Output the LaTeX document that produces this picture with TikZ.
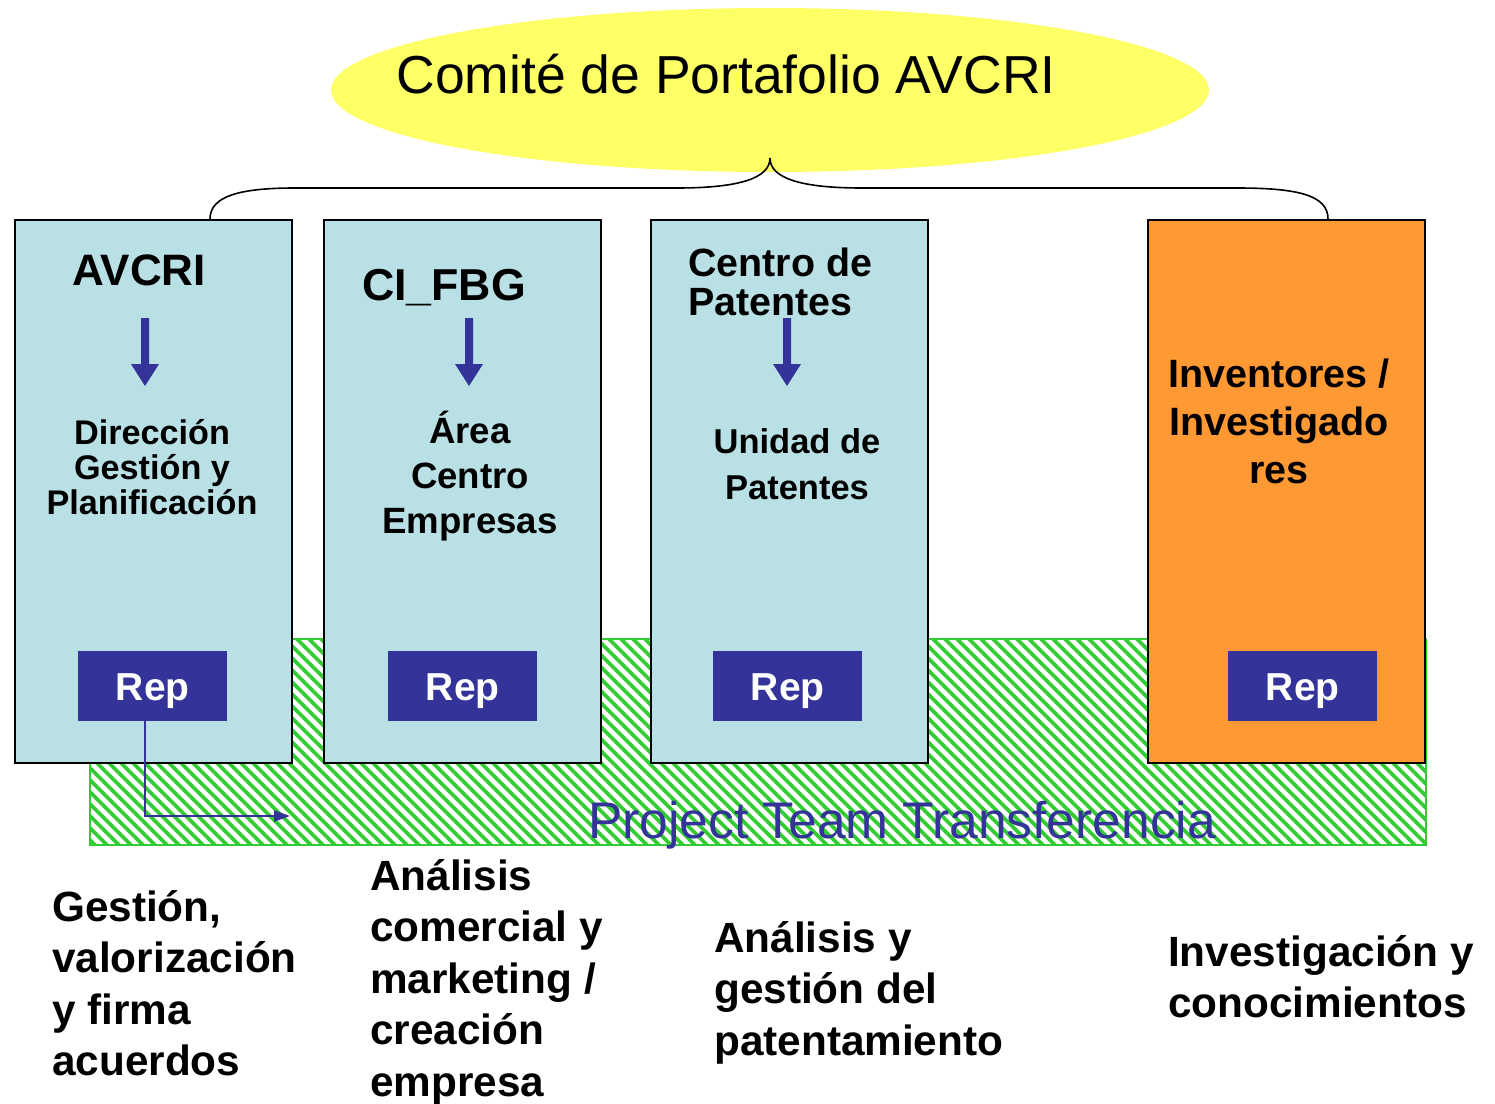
\documentclass[tikz,border=0pt]{standalone}
\usepackage{fontspec}
\setmainfont{Liberation Sans}
\usetikzlibrary{shapes.geometric,arrows.meta}
\definecolor{boxblue}{RGB}{185,224,228}
\definecolor{orangebox}{RGB}{255,153,51}
\definecolor{yell}{RGB}{255,255,102}
\definecolor{navy}{RGB}{51,51,153}
\definecolor{grn}{RGB}{51,204,51}
\begin{document}
\begin{tikzpicture}[x=1pt,y=-1pt,
  unit/.style={draw=black, line width=2pt, minimum width=277pt, minimum height=543pt, inner sep=0pt, anchor=north west},
  repbox/.style={fill=navy, text=white, minimum width=149pt, minimum height=70pt, inner sep=0pt, anchor=north west,
     text height=28pt, text depth=-3pt, font=\fontsize{39}{44}\selectfont\bfseries},
  downarrow/.style={fill=navy, draw=none},
  bodytxt/.style={align=center, inner sep=0pt},
  bottxt/.style={align=left, inner sep=0pt, anchor=north west, font=\fontsize{42.3}{51.5}\selectfont\bfseries},
  brace/.style={draw=black, line width=1.6pt}
]
\useasboundingbox (0,0) rectangle (1495,1103);

% ellipse
\node (comite) [ellipse, fill=yell, minimum width=878pt, minimum height=164pt, inner sep=0pt] at (770,90) {};
\node (comitetxt) [inner sep=0pt, font=\fontsize{53.5}{60}\selectfont] at (726,74) {Comité de Portafolio AVCRI};

% hatched band
\begin{scope}
  \clip (89,638) rectangle (1425,844);
  \foreach \i in {-220,-208,...,1440} \draw[grn, line width=3.8pt] (\i,638) -- ++(210,210);
\end{scope}
\node (band) [draw=grn, line width=2pt, minimum width=1336pt, minimum height=206pt, inner sep=0pt, anchor=north west] at (89,638) {};

% unit boxes
\node (b1) [unit, fill=boxblue] at (14,219) {};
\node (b2) [unit, fill=boxblue] at (323,219) {};
\node (b3) [unit, fill=boxblue] at (650,219) {};
\node (b4) [unit, fill=orangebox] at (1147,219) {};

% brace
\coordinate (btip) at (770,158);
\coordinate (bl) at (210,219);
\coordinate (br) at (1328,219);
\draw[brace] (bl) .. controls (210,196) and (240,188) .. (295,188) -- (677,188)
  .. controls (740,188) and (770,178) .. (btip)
  .. controls (770,178) and (800,188) .. (862,188) -- (1238,188)
  .. controls (1300,188) and (1328,196) .. (br);

% titles
\node (t1) [inner sep=0pt, font=\fontsize{44}{50}\selectfont\bfseries] at (139,270) {AVCRI};
\node (t2) [inner sep=0pt, font=\fontsize{44.7}{50}\selectfont\bfseries] at (444,288) {CI\_FBG};
\node (t3) [inner sep=0pt, align=left, anchor=north west, font=\fontsize{39.4}{39}\selectfont\bfseries] at (688,248) {Centro de\\Patentes};

% down arrows
\foreach \n/\x in {a1/145,a2/469,a3/787}{
  \fill[downarrow] (\x-4,318) -- (\x+4,318) -- (\x+4,364) -- (\x+14,364) -- (\x,386) -- (\x-14,364) -- (\x-4,364) -- cycle;
}

% sub texts
\node (s1) [bodytxt, font=\fontsize{34.2}{35}\selectfont\bfseries] at (152,467) {Dirección\\Gestión y\\Planificación};
\node (s2) [bodytxt, font=\fontsize{36.6}{45}\selectfont\bfseries] at (470,476) {Área\\Centro\\Empresas};
\node (s3) [bodytxt, font=\fontsize{34.5}{46}\selectfont\bfseries] at (797,464) {Unidad de\\Patentes};
\node (s4) [bodytxt, font=\fontsize{39.5}{48}\selectfont\bfseries] at (1279,421) {Inventores /\\Investigado\\res};

% reps
\node (r1) [repbox] at (78,651) {Rep};
\node (r2) [repbox] at (388,651) {Rep};
\node (r3) [repbox] at (713,651) {Rep};
\node (r4) [repbox] at (1228,651) {Rep};

% rep arrow
\coordinate (rend) at (290,816);
\draw[navy, line width=2.4pt, -{Triangle[length=16pt,width=11pt]}] (r1.south -| 145,0) |- (rend);

% band label
\node (bandtxt) [inner sep=0pt, text=navy, font=\fontsize{51.5}{56}\selectfont] at (902,825) {Project Team Transferencia};

% bottom texts
\node (d1) [bottxt] at (52,890) {Gestión,\\valorización\\y firma\\acuerdos};
\node (d2) [bottxt] at (370,859) {Análisis\\comercial y\\marketing /\\creación\\empresa};
\node (d3) [bottxt] at (714,921) {Análisis y\\gestión del\\patentamiento};
\node (d4) [bottxt] at (1168,935) {Investigación y\\conocimientos};
\end{tikzpicture}
\end{document}
